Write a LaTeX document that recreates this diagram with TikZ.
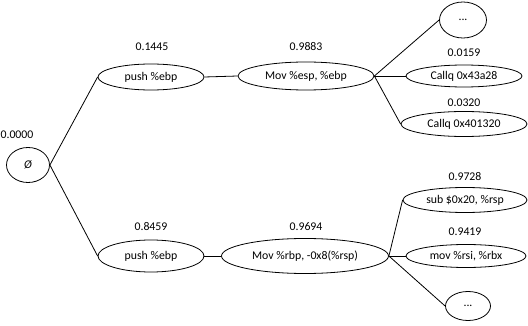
\documentclass[tikz,border=0pt]{standalone}
\usepackage{fontspec}
\setmainfont{Carlito}
\usetikzlibrary{shapes.geometric}
\begin{document}
\begin{tikzpicture}[x=1pt,y=-1pt,
  op/.style={ellipse,draw,line width=0.8pt,inner sep=0pt,font=\fontsize{11.8}{13}\selectfont},
  prob/.style={inner sep=0pt,font=\fontsize{11.8}{13}\selectfont},
  link/.style={draw,line width=0.8pt}]
\useasboundingbox (0,0) rectangle (528,326);

% root
\node[op,minimum width=43,minimum height=35] (root) at (28,165) {\itshape Ø};
\node[prob] (proot) at (17,135) {0.0000};

% upper branch
\node[op,minimum width=106,minimum height=26] (pa) at (151,77) {push \%ebp};
\node[prob] (ppa) at (152,47) {0.1445};
\node[op,minimum width=136,minimum height=28] (ma) at (306,76) {Mov \%esp, \%ebp};
\node[prob] (pma) at (306,47) {0.9883};
\node[op,minimum width=47,minimum height=36] (da) at (463,20) {...};
\node[op,minimum width=116,minimum height=22] (ca) at (464,76) {Callq 0x43a28};
\node[prob] (pca) at (464,53) {0.0159};
\node[op,minimum width=126,minimum height=25] (cb) at (464,124) {Callq 0x401320};
\node[prob] (pcb) at (464,103) {0.0320};

% lower branch
\node[op,minimum width=106,minimum height=32] (pb) at (151,256) {push \%ebp};
\node[prob] (ppb) at (151,227) {0.8459};
\node[op,minimum width=167,minimum height=35] (mb) at (305,256) {Mov \%rbp, -0x8(\%rsp)};
\node[prob] (pmb) at (306,227) {0.9694};
\node[op,minimum width=124,minimum height=25] (sb) at (465,200) {sub \$0x20, \%rsp};
\node[prob] (psb) at (465,177) {0.9728};
\node[op,minimum width=120,minimum height=23] (rb) at (466,256) {mov \%rsi, \%rbx};
\node[prob] (prb) at (465,232) {0.9419};
\node[op,minimum width=45,minimum height=29] (db) at (468,306) {...};

% connectors
\path[link] (root.east) -- (pa.west);
\path[link] (root.east) -- (pb.west);
\path[link] (pa.east) -- (ma.west);
\path[link] (pb.east) -- (mb.west);
\path[link] (ma.east) -- (da.west);
\path[link] (ma.east) -- (ca.west);
\path[link] (ma.east) -- (cb.west);
\path[link] (mb.east) -- (sb.west);
\path[link] (mb.east) -- (rb.west);
\path[link] (mb.east) -- (db.west);
\end{tikzpicture}
\end{document}
